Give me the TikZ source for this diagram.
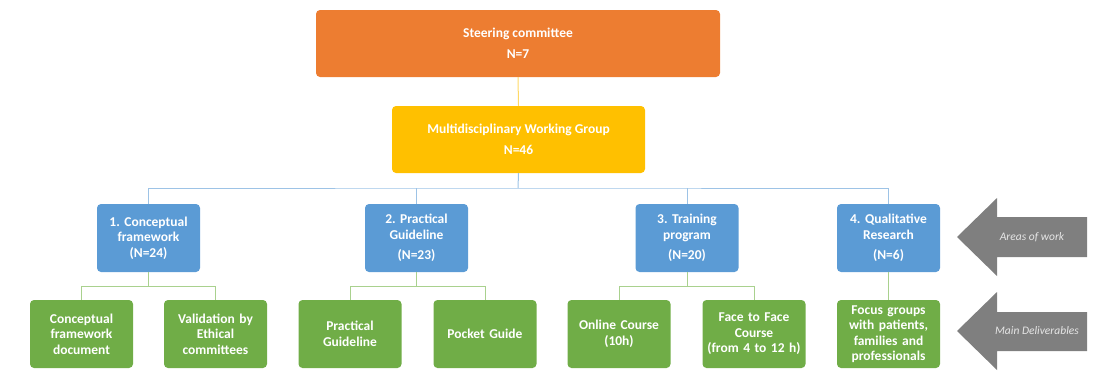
\documentclass[tikz,border=0pt]{standalone}
\usepackage{fontspec}
\setmainfont{Carlito}
\frenchspacing
\definecolor{orangeC}{HTML}{ED7D31}
\definecolor{yellowC}{HTML}{FFC000}
\definecolor{blueC}{HTML}{5B9BD5}
\definecolor{greenC}{HTML}{70AD47}
\definecolor{grayC}{HTML}{7F7F7F}
\definecolor{yline}{HTML}{FFD966}
\definecolor{bline}{HTML}{9DC3E6}
\definecolor{gline}{HTML}{A9D18E}
\definecolor{atext}{HTML}{E6E6E6}
\begin{document}
\begin{tikzpicture}[x=1pt,y=-1pt,
  box/.style={rounded corners=4pt, text=white, align=center, inner sep=2pt,
    font=\fontsize{13.5}{15.5}\selectfont\bfseries},
  topbox/.style={box, minimum height=67pt},
  areabox/.style={box, fill=blueC, minimum width=103pt, minimum height=68pt, text width=99pt},
  delbox/.style={box, fill=greenC, minimum width=103pt, minimum height=68pt, text width=99pt},
  ylink/.style={draw=yline, line width=1pt},
  blink/.style={draw=bline, line width=1pt},
  glink/.style={draw=gline, line width=1pt},
  arrowtext/.style={text=atext, font=\fontsize{11.5}{13}\selectfont\itshape}
]
\useasboundingbox (0,0) rectangle (1103,372);

% top boxes
\node[topbox, fill=orangeC, minimum width=404pt] (sc) at (518,43.5) {Steering committee\\[5pt]N=7};
\node[topbox, fill=yellowC, minimum width=253pt] (mwg) at (518.5,139.5) {Multidisciplinary Working Group\\[5pt]N=46};

% areas of work
\node[areabox] (a1) at (148.5,238) {1. Conceptual\\framework\\(N=24)};
\node[areabox] (a2) at (416.5,238) {2. Practical\\Guideline\\[5pt](N=23)};
\node[areabox] (a3) at (687,238) {3. Training\\program\\[5pt](N=20)};
\node[areabox] (a4) at (888.5,238) {4. Qualitative\\Research\\[5pt](N=6)};

% deliverables
\node[delbox] (d1) at (81.5,334) {Conceptual\\framework\\document};
\node[delbox] (d2) at (215.5,334) {Validation by\\Ethical\\committees};
\node[delbox] (d3) at (350,334) {Practical\\Guideline};
\node[delbox] (d4) at (485,334) {Pocket Guide};
\node[delbox] (d5) at (619,334) {Online Course\\(10h)};
\node[delbox] (d6) at (754,334) {Face to Face\\Course\\(from 4 to 12 h)};
\node[delbox] (d7) at (888.5,334) {Focus groups\\with patients,\\families and\\professionals};

% connectors
\draw[ylink] (sc.south) -- (mwg.north);
\coordinate (bus) at (518,188);
\draw[blink] (mwg.south) -- (bus);
\draw[blink] (a1.north) |- (bus) -| (a4.north);
\draw[blink] (a2.north) -- (a2.north |- bus);
\draw[blink] (a3.north) -- (a3.north |- bus);

\draw[glink] (d1.north) |- ([yshift=-14.5pt]a1.south) -| (d2.north);
\draw[glink] (a1.south) -- ([yshift=-14.5pt]a1.south);
\draw[glink] (d3.north) |- ([yshift=-14.5pt]a2.south) -| (d4.north);
\draw[glink] (a2.south) -- ([yshift=-14.5pt]a2.south);
\draw[glink] (d5.north) |- ([yshift=-14.5pt]a3.south) -| (d6.north);
\draw[glink] (a3.south) -- ([yshift=-14.5pt]a3.south);
\draw[glink] (a4.south) -- (d7.north);

% side arrows
\fill[grayC] (957,237) -- (997,198) -- (997,217) -- (1087,217) -- (1087,257) -- (997,257) -- (997,276) -- cycle;
\node[arrowtext] (t1) at (1032,237) {Areas of work};
\fill[grayC] (957,331) -- (997,292) -- (997,312) -- (1087,312) -- (1087,351) -- (997,351) -- (997,370) -- cycle;
\node[arrowtext] (t2) at (1037,331) {Main Deliverables};
\end{tikzpicture}
\end{document}
